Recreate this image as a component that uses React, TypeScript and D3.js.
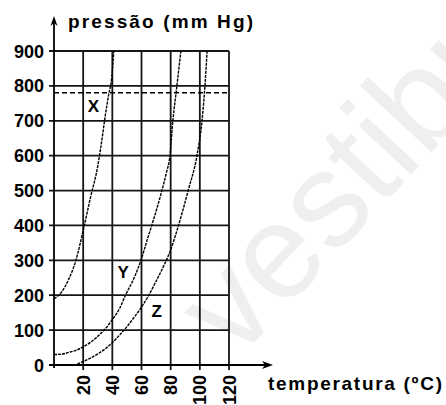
import React from 'react';
import * as d3 from 'd3';

// temperatura (ºC) x pressão (mm Hg)
const tempTicks = [20, 40, 60, 80, 100, 120];
const pressTicks = [0, 100, 200, 300, 400, 500, 600, 700, 800, 900];
const refPressure = 780;

const curveX: [number, number][] = [
  [0, 190], [5, 208], [10, 245], [15, 300], [20, 385], [25, 480], [30, 570],
  [33, 650], [35, 710], [37.5, 775], [39.5, 820], [41, 900],
];
const curveY: [number, number][] = [
  [0, 30], [5, 31], [10, 36], [15, 42], [20, 52], [25, 65], [30, 82], [35, 103],
  [40, 130], [45, 162], [49, 200], [55, 250], [60, 305], [64, 360], [67, 400],
  [71, 455], [74, 500], [77, 550], [79.5, 600], [81.5, 700], [84, 790], [87, 900],
];
const curveZ: [number, number][] = [
  [16, 3], [20, 10], [25, 20], [30, 32], [35, 46], [40, 64], [45, 86], [50, 110],
  [55, 137], [60, 166], [65, 200], [70, 240], [75, 282], [80, 330], [85, 395],
  [92, 500], [98, 600], [101.5, 700], [103.5, 800], [105, 900],
];
const curveLabels = [
  { name: 'X', t: 27, p: 740 },
  { name: 'Y', t: 47.5, p: 265 },
  { name: 'Z', t: 70.5, p: 152 },
];

const boldFont = '"Liberation Sans", Arial, sans-serif';

export default function App() {
  const x = d3.scaleLinear().domain([0, 120]).range([54, 229]);
  const y = d3.scaleLinear().domain([0, 900]).range([365, 51]);

  const line = d3.line<[number, number]>()
    .x((d) => x(d[0]))
    .y((d) => y(d[1]))
    .curve(d3.curveMonotoneX);

  const x0 = x(0);
  const y0 = y(0);

  return (
    <svg width={446} height={405} style={{ position: 'absolute', left: 0, top: 0, background: '#fff' }}>
      {/* watermark */}
      <text
        transform="translate(236,362) rotate(-47)"
        fontFamily='"Liberation Sans", Arial, sans-serif'
        fontSize={135}
        fill="#efefef"
      >
        vestibular
      </text>

      {/* grid */}
      <g stroke="#161616" strokeWidth={1.8}>
        {tempTicks.map((t) => (
          <line key={'v' + t} x1={x(t)} x2={x(t)} y1={y(900)} y2={y0 + 5} />
        ))}
        {pressTicks.map((p) => (
          <line key={'h' + p} x1={x0 - 5} x2={x(120)} y1={y(p)} y2={y(p)} />
        ))}
      </g>

      {/* axes */}
      <line x1={x0} x2={x0} y1={y0 + 3} y2={20} stroke="#000" strokeWidth={1.8} />
      <path d={`M${x0},16 L${x0 - 3.5},26 L${x0},23 L${x0 + 3.5},26 Z`} fill="#000" />
      <line x1={x0 - 5} x2={268} y1={y0} y2={y0} stroke="#000" strokeWidth={1.8} />
      <path d={`M273,${y0} L262,${y0 - 4} L265,${y0} L262,${y0 + 4} Z`} fill="#000" />

      {/* 1 atm line */}
      <line
        x1={x0}
        x2={x(120)}
        y1={y(refPressure)}
        y2={y(refPressure)}
        stroke="#000"
        strokeWidth={1.5}
        strokeDasharray="5,3"
      />

      {/* curves */}
      {[curveX, curveY, curveZ].map((c, i) => (
        <path key={i} d={line(c) || ''} fill="none" stroke="#000" strokeWidth={1.4} strokeDasharray="3,1" />
      ))}

      {curveLabels.map((l) => (
        <text
          key={l.name}
          x={x(l.t)}
          y={y(l.p)}
          textAnchor="middle"
          dominantBaseline="central"
          fontFamily={boldFont}
          fontWeight="bold"
          fontSize={17}
        >
          {l.name}
        </text>
      ))}

      {/* y tick labels */}
      {pressTicks.map((p) => (
        <text
          key={'yl' + p}
          x={44}
          y={y(p) + 6.5}
          textAnchor="end"
          fontFamily={boldFont}
          fontWeight="bold"
          fontSize={18}
        >
          {p}
        </text>
      ))}

      {/* x tick labels */}
      {tempTicks.map((t) => (
        <text
          key={'xl' + t}
          transform={`translate(${x(t) + 6.5},375) rotate(-90)`}
          textAnchor="end"
          fontFamily={boldFont}
          fontWeight="bold"
          fontSize={18}
        >
          {t}
        </text>
      ))}

      <text x={68} y={28} fontFamily={boldFont} fontWeight="bold" fontSize={19} textLength={185} lengthAdjust="spacing">
        pressão (mm Hg)
      </text>
      <text x={268} y={390} fontFamily={boldFont} fontWeight="bold" fontSize={19} textLength={174} lengthAdjust="spacing">
        temperatura (ºC)
      </text>
    </svg>
  );
}
